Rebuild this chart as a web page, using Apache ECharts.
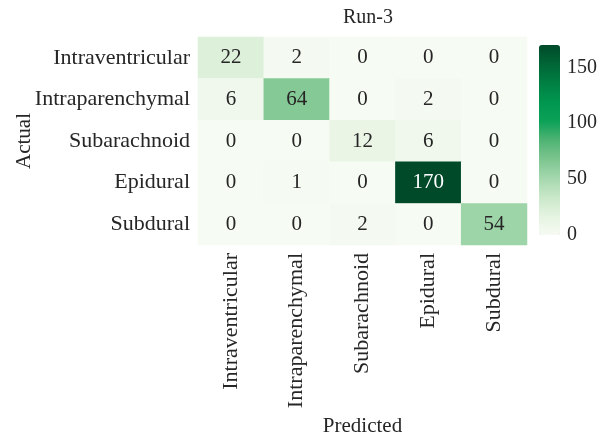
<!DOCTYPE html>
<html>
<head>
<meta charset="utf-8">
<script src="https://cdn.jsdelivr.net/npm/echarts@6/dist/echarts.min.js"></script>
<style>html,body{margin:0;padding:0;background:#fff;}#c{width:600px;height:440px;}</style>
</head>
<body>
<div id="c"></div>
<script>
const categories = ['Intraventricular', 'Intraparenchymal', 'Subarachnoid', 'Epidural', 'Subdural'];
const row0 = [22, 2, 0, 0, 0];
const row1 = [6, 64, 0, 2, 0];
const row2 = [0, 0, 12, 6, 0];
const row3 = [0, 1, 0, 170, 0];
const row4 = [0, 0, 2, 0, 54];
const rows = [row0, row1, row2, row3, row4];
const colorbarTicks = [0, 50, 100, 150];
const vmax = 170;

const FONT = '"Liberation Serif", "DejaVu Serif", serif';
const FS = 22;
const data = [];
rows.forEach((r, i) => r.forEach((v, j) => {
  data.push({ value: [j, i, v], label: { color: v > 100 ? '#ffffff' : '#262626' } });
}));

const chart = echarts.init(document.getElementById('c'));
chart.setOption({
  animation: false,
  title: { text: 'Run-3', left: 363, top: 3, textAlign: 'center',
    textStyle: { fontFamily: FONT, fontSize: 20, fontWeight: 'normal', color: '#262626' } },
  grid: [
    { left: 198, top: 37, width: 329, height: 208, outerBoundsMode: 'none', containLabel: false },
    { left: 539, top: 45, width: 21, height: 190, outerBoundsMode: 'none', containLabel: false }
  ],
  xAxis: [
    { type: 'category', data: categories, gridIndex: 0,
      axisLine: { show: false }, axisTick: { show: false }, splitLine: { show: false },
      axisLabel: { rotate: 90, margin: 8, fontFamily: FONT, fontSize: FS, color: '#262626' },
      name: 'Predicted', nameLocation: 'middle', nameGap: 171, nameMoveOverlap: false,
      nameTextStyle: { fontFamily: FONT, fontSize: 21, color: '#262626' } },
    { type: 'value', gridIndex: 1, show: false, min: 0, max: 1 }
  ],
  yAxis: [
    { type: 'category', data: categories, inverse: true, gridIndex: 0,
      axisLine: { show: false }, axisTick: { show: false }, splitLine: { show: false },
      axisLabel: { margin: 8, fontFamily: FONT, fontSize: FS, color: '#262626' },
      name: 'Actual', nameLocation: 'middle', nameGap: 163, nameRotate: 90, nameMoveOverlap: false,
      nameTextStyle: { fontFamily: FONT, fontSize: 21, color: '#262626' } },
    { type: 'value', gridIndex: 1, position: 'right', min: 0, max: vmax, interval: 50,
      axisLine: { show: false }, axisTick: { show: false }, splitLine: { show: false },
      axisLabel: { margin: 7, fontFamily: FONT, fontSize: 20, color: '#262626',
        formatter: v => colorbarTicks.indexOf(v) >= 0 ? String(v) : '' } }
  ],
  visualMap: {
    type: 'continuous', min: 0, max: vmax, seriesIndex: 0, calculable: false,
    orient: 'vertical', left: 539, top: 45, itemWidth: 21, itemHeight: 190,
    padding: 0, text: null, showLabel: false, hoverLink: false,
    inRange: { color: ['#f6fbf3', '#e5f3e1', '#c9e8c9', '#a4d7ad', '#7cc58f', '#4fb374', '#0ba157', '#00964f', '#007f42', '#006536', '#004a2a'] }
  },
  series: [
    { type: 'heatmap', xAxisIndex: 0, yAxisIndex: 0, data: data,
      label: { show: true, fontFamily: FONT, fontSize: 21 },
      itemStyle: { borderWidth: 0 } },
    { type: 'scatter', xAxisIndex: 1, yAxisIndex: 1, data: [], silent: true }
  ]
});
</script>
</body>
</html>
